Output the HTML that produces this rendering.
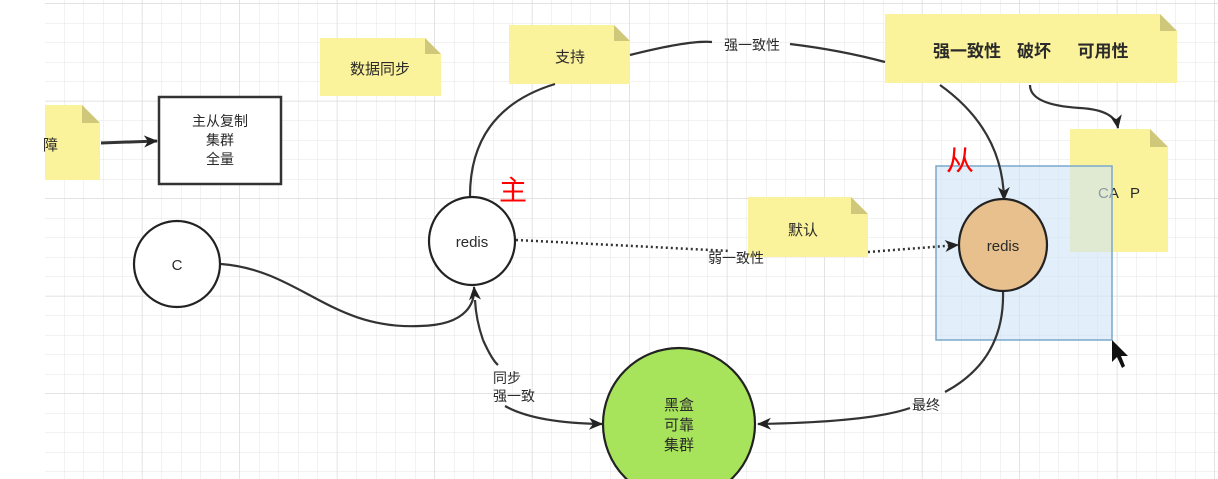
<!DOCTYPE html>
<html><head><meta charset="utf-8">
<style>
html,body{margin:0;padding:0;background:#fff;}
svg{display:block;}
text{font-family:"Liberation Sans","Noto Sans CJK SC",sans-serif;fill:#2a2a2a;}
</style></head>
<body>
<svg width="1218" height="479" viewBox="0 0 1218 479" xmlns="http://www.w3.org/2000/svg">
<defs>
<pattern id="g" width="19.5" height="19.5" patternUnits="userSpaceOnUse" x="45" y="4">
<path d="M19.5 0V19.5M0 19.5H19.5" fill="none" stroke="#e4e4e4" stroke-width="1"/>
</pattern>
<pattern id="G" width="97.5" height="97.5" patternUnits="userSpaceOnUse" x="45" y="4">
<path d="M97.5 0V97.5M0 97.5H97.5" fill="none" stroke="#dadada" stroke-width="1.5"/>
</pattern>
<marker id="a" markerWidth="14" markerHeight="14" refX="13" refY="7" orient="auto" markerUnits="userSpaceOnUse">
<path d="M0,1 L14,7 L0,13 L4,7 z" fill="#222"/>
</marker>
</defs>
<rect x="45" y="0" width="1173" height="479" fill="url(#g)"/>
<rect x="45" y="0" width="1173" height="479" fill="url(#G)"/>

<g>
<path d="M45 105 H82 L100 123 V180 H45 Z" fill="#fbf39b"/><path d="M82 105 L100 123 H82Z" fill="#cfc77a"/>
<text x="43" y="150" font-size="15">障</text>

<path d="M320 38 H425 L441 54 V96 H320 Z" fill="#fbf39b"/><path d="M425 38 L441 54 H425Z" fill="#cfc77a"/>
<text x="380" y="74" font-size="15" text-anchor="middle">数据同步</text>

<path d="M509 25 H614 L630 41 V84 H509 Z" fill="#fbf39b"/><path d="M614 25 L630 41 H614Z" fill="#cfc77a"/>
<text x="570" y="62" font-size="15" text-anchor="middle">支持</text>

<path d="M885 14 H1160 L1177 31 V83 H885 Z" fill="#fbf39b"/><path d="M1160 14 L1177 31 H1160Z" fill="#cfc77a"/>
<text x="967" y="57" font-size="17" font-weight="bold" text-anchor="middle">强一致性</text>
<text x="1034" y="57" font-size="17" font-weight="bold" text-anchor="middle">破坏</text>
<text x="1103" y="57" font-size="17" font-weight="bold" text-anchor="middle">可用性</text>

<path d="M1070 129 H1150 L1168 147 V252 H1070 Z" fill="#fbf39b"/><path d="M1150 129 L1168 147 H1150Z" fill="#cfc77a"/>
<text x="1098" y="198" font-size="15">CA</text>
<text x="1130" y="198" font-size="15">P</text>

<path d="M748 197 H851 L868 214 V257 H748 Z" fill="#fbf39b"/><path d="M851 197 L868 214 H851Z" fill="#cfc77a"/>
<text x="803" y="235" font-size="15" text-anchor="middle">默认</text>
</g>

<rect x="936" y="166" width="176" height="174" fill="#cfe5f7" fill-opacity="0.6" stroke="#7aa8cc" stroke-width="1.5"/>

<rect x="159" y="97" width="122" height="87" fill="#fff" stroke="#333" stroke-width="2.5"/>
<text x="220" y="126" font-size="14" text-anchor="middle">主从复制</text>
<text x="220" y="145" font-size="14" text-anchor="middle">集群</text>
<text x="220" y="164" font-size="14" text-anchor="middle">全量</text>
<line x1="101" y1="143" x2="157" y2="141" stroke="#333" stroke-width="3" marker-end="url(#a)"/>

<g fill="none" stroke="#333" stroke-width="2.2">
<path d="M470 196 Q470 110 555 84"/>
<path d="M630 55 Q690 40 712 42"/>
<path d="M790 44 Q840 50 885 62"/>
<path d="M940 85 Q1003 130 1004 200" marker-end="url(#a)"/>
<path d="M1030 85 Q1030 105 1080 108 Q1115 110 1118 128" marker-end="url(#a)"/>
<path d="M221 264 C300 270 330 330 420 326 C470 325 475 300 474 287" marker-end="url(#a)"/>
<path d="M483 340 Q476 320 475 300"/>
<path d="M483 340 Q492 360 498 365"/>
<path d="M505 406 Q535 423 602 424" marker-end="url(#a)"/>
<path d="M1003 291 Q1005 360 945 392"/>
<path d="M910 408 Q870 422 758 424" marker-end="url(#a)"/>
</g>
<path d="M516 240 L730 251" fill="none" stroke="#333" stroke-width="2.5" stroke-dasharray="2 3"/>
<path d="M868 252 L958 245" fill="none" stroke="#333" stroke-width="2.5" stroke-dasharray="2 3" marker-end="url(#a)"/>

<text x="752" y="50" font-size="14" text-anchor="middle">强一致性</text>
<text x="736" y="263" font-size="14" text-anchor="middle">弱一致性</text>
<text x="507" y="383" font-size="14" text-anchor="middle">同步</text>
<text x="514" y="401" font-size="14" text-anchor="middle">强一致</text>
<text x="926" y="410" font-size="14" text-anchor="middle">最终</text>

<circle cx="177" cy="264" r="43" fill="#fff" stroke="#222" stroke-width="2.2"/>
<text x="177" y="270" font-size="15" text-anchor="middle">C</text>
<ellipse cx="472" cy="241" rx="43" ry="44" fill="#fff" stroke="#222" stroke-width="2.2"/>
<text x="472" y="247" font-size="15" text-anchor="middle">redis</text>
<ellipse cx="1003" cy="245" rx="44" ry="46" fill="#e8c08e" stroke="#222" stroke-width="2.2"/>
<text x="1003" y="251" font-size="15" text-anchor="middle">redis</text>
<circle cx="679" cy="424" r="76" fill="#a7e45c" stroke="#222" stroke-width="2.2"/>
<text x="679" y="410" font-size="15" text-anchor="middle">黑盒</text>
<text x="679" y="430" font-size="15" text-anchor="middle">可靠</text>
<text x="679" y="450" font-size="15" text-anchor="middle">集群</text>

<text x="499" y="200" font-size="28" style="fill:#f00">主</text>
<text x="946" y="170" font-size="28" style="fill:#f00">从</text>

<path d="M1112 340 L1112 362 L1117 357 L1122 368 L1125 366 L1121 356 L1128 356 Z" fill="#111"/>
</svg>
</body></html>
